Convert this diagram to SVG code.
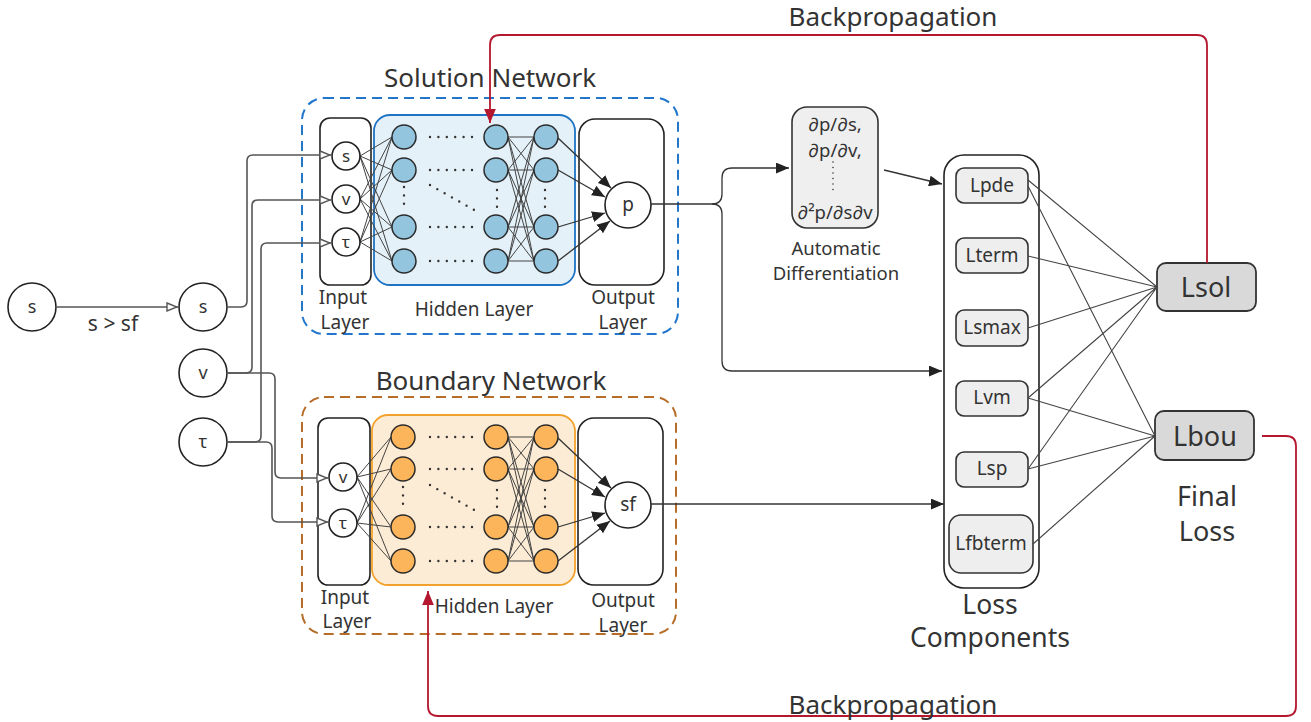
<svg xmlns="http://www.w3.org/2000/svg" width="1311" height="722" viewBox="0 0 1311 722">
<defs>
<style>
text{font-family:"Noto Sans","Open Sans",sans-serif;fill:#333;text-anchor:middle;dominant-baseline:central}
.t16{font-size:18px}.tl{font-size:19px}.tn{font-size:17px}.t17{font-size:19px}.tad{font-size:18.5px}.t22{font-size:26px}.tf{font-size:27px}.t24{font-size:26.5px}
.box{fill:#fff;stroke:#222;stroke-width:1.6}
.node{fill:#fff;stroke:#222;stroke-width:1.6}
.hb{fill:#94c5df;stroke:#2b2b2b;stroke-width:1.5}
.ho{fill:#fdb55b;stroke:#2b2b2b;stroke-width:1.5}
.w{stroke:#444;stroke-width:1;fill:none}
.dot{stroke:#333;stroke-width:2.4;stroke-linecap:round;stroke-dasharray:0 8.4;fill:none}
.in{stroke:#555;stroke-width:1.6;fill:none;marker-end:url(#open)}
.ar{stroke:#333;stroke-width:1.3;fill:none;marker-end:url(#fill)}
.red{stroke:#b5172e;stroke-width:1.8;fill:none;marker-end:url(#redh)}
.lc{fill:#eee;stroke:#333;stroke-width:1.6}
</style>
<marker id="open" viewBox="0 0 12 10" refX="12" refY="5" markerWidth="12" markerHeight="10" markerUnits="userSpaceOnUse" orient="auto"><path d="M1,1 L11,5 L1,9 Z" fill="#fff" stroke="#555" stroke-width="1.4"/></marker>
<marker id="fill" viewBox="0 0 12 10" refX="12" refY="5" markerWidth="13" markerHeight="11" markerUnits="userSpaceOnUse" orient="auto"><path d="M0,0 L12,5 L0,10 Z" fill="#222"/></marker>
<marker id="redh" viewBox="0 0 12 10" refX="12" refY="5" markerWidth="14" markerHeight="12" markerUnits="userSpaceOnUse" orient="auto"><path d="M0,0 L12,5 L0,10 Z" fill="#b5172e"/></marker>
</defs>
<rect width="1311" height="722" fill="#fff"/>

<!-- Solution network -->
<g id="solution-network">
<rect x="302" y="98" width="376" height="236" rx="22" fill="none" stroke="#2277cc" stroke-width="2" stroke-dasharray="10 6"/>
<text class="t22" x="490" y="77">Solution Network</text>
<rect class="box" x="320" y="118" width="51" height="167" rx="10"/>
<rect x="374" y="115" width="201" height="170" rx="16" fill="#e4f1f8" stroke="#1f73c4" stroke-width="1.8"/>
<rect class="box" x="579" y="119" width="85" height="166" rx="16"/>
<g class="w">
<path d="M360,156 L392,137 M360,156 L392,170 M360,156 L392,227 M360,156 L392,261 M360,199 L392,137 M360,199 L392,170 M360,199 L392,227 M360,199 L392,261 M360,242 L392,137 M360,242 L392,170 M360,242 L392,227 M360,242 L392,261"/>
<path d="M508,137 L534,137 M508,137 L534,170 M508,137 L534,227 M508,137 L534,261 M508,170 L534,137 M508,170 L534,170 M508,170 L534,227 M508,170 L534,261 M508,227 L534,137 M508,227 L534,170 M508,227 L534,227 M508,227 L534,261 M508,261 L534,137 M508,261 L534,170 M508,261 L534,227 M508,261 L534,261"/>
</g>
<path class="dot" d="M430,137 H473 M430,170 H473 M430,227 H473 M430,261 H473 M404,187 V212 M430,185 L476,211 M497,190 V211 M545,190 V211"/>
<g class="ar">
<path d="M558,138 L611,188"/><path d="M558,170 L605,197"/><path d="M558,227 L605,213"/><path d="M558,261 L610,221"/>
</g>
<circle class="hb" cx="404" cy="137" r="12"/><circle class="hb" cx="404" cy="170" r="12"/><circle class="hb" cx="404" cy="227" r="12"/><circle class="hb" cx="404" cy="261" r="12"/>
<circle class="hb" cx="496" cy="137" r="12"/><circle class="hb" cx="496" cy="170" r="12"/><circle class="hb" cx="496" cy="227" r="12"/><circle class="hb" cx="496" cy="261" r="12"/>
<circle class="hb" cx="546" cy="137" r="12"/><circle class="hb" cx="546" cy="170" r="12"/><circle class="hb" cx="546" cy="227" r="12"/><circle class="hb" cx="546" cy="261" r="12"/>
<circle class="node" cx="346" cy="156" r="14"/><text class="tn" x="346" y="155">s</text>
<circle class="node" cx="346" cy="199" r="14"/><text class="tn" x="346" y="198">v</text>
<circle class="node" cx="346" cy="242" r="14"/><text class="tn" x="346" y="241">τ</text>
<circle class="node" cx="628" cy="205" r="23"/><text class="t17" x="628" y="204">p</text>
<text class="tl" x="343" y="297">Input</text><text class="tl" x="345" y="322">Layer</text>
<text class="tl" x="474" y="309">Hidden Layer</text>
<text class="tl" x="623" y="297">Output</text><text class="tl" x="623" y="322">Layer</text>
</g>

<!-- Boundary network -->
<g id="boundary-network">
<rect x="302" y="397" width="374" height="237" rx="22" fill="none" stroke="#b56d27" stroke-width="2" stroke-dasharray="10 6"/>
<text class="t22" x="491" y="380">Boundary Network</text>
<rect class="box" x="318" y="418" width="52" height="167" rx="10"/>
<rect x="372" y="415" width="203" height="170" rx="16" fill="#fdecd5" stroke="#f2a22c" stroke-width="1.8"/>
<rect class="box" x="578" y="418" width="85" height="167" rx="16"/>
<g class="w">
<path d="M357,477 L391,437 M357,477 L391,469 M357,477 L391,527 M357,477 L391,561 M357,523 L391,437 M357,523 L391,469 M357,523 L391,527 M357,523 L391,561"/>
<path d="M508,437 L534,437 M508,437 L534,469 M508,437 L534,527 M508,437 L534,561 M508,469 L534,437 M508,469 L534,469 M508,469 L534,527 M508,469 L534,561 M508,527 L534,437 M508,527 L534,469 M508,527 L534,527 M508,527 L534,561 M508,561 L534,437 M508,561 L534,469 M508,561 L534,527 M508,561 L534,561"/>
</g>
<path class="dot" d="M430,437 H473 M430,469 H473 M430,527 H473 M430,561 H473 M403,487 V512 M430,485 L476,511 M497,490 V511 M545,490 V511"/>
<g class="ar">
<path d="M558,438 L611,488"/><path d="M558,469 L605,497"/><path d="M558,527 L605,513"/><path d="M558,561 L610,521"/>
</g>
<circle class="ho" cx="403" cy="437" r="12"/><circle class="ho" cx="403" cy="469" r="12"/><circle class="ho" cx="403" cy="527" r="12"/><circle class="ho" cx="403" cy="561" r="12"/>
<circle class="ho" cx="496" cy="437" r="12"/><circle class="ho" cx="496" cy="469" r="12"/><circle class="ho" cx="496" cy="527" r="12"/><circle class="ho" cx="496" cy="561" r="12"/>
<circle class="ho" cx="546" cy="437" r="12"/><circle class="ho" cx="546" cy="469" r="12"/><circle class="ho" cx="546" cy="527" r="12"/><circle class="ho" cx="546" cy="561" r="12"/>
<circle class="node" cx="343" cy="477" r="14"/><text class="tn" x="343" y="476">v</text>
<circle class="node" cx="343" cy="523" r="14"/><text class="tn" x="343" y="522">τ</text>
<circle class="node" cx="628" cy="505" r="23"/><text class="t17" x="628" y="504">sf</text>
<text class="tl" x="345" y="597">Input</text><text class="tl" x="347" y="621">Layer</text>
<text class="tl" x="494" y="606">Hidden Layer</text>
<text class="tl" x="623" y="600">Output</text><text class="tl" x="623" y="625">Layer</text>
</g>

<!-- Inputs -->
<g id="input-s0"><circle class="node" cx="32" cy="307" r="24"/><text class="t16" x="32" y="306">s</text></g>
<g id="input-s"><circle class="node" cx="203" cy="307" r="24"/><text class="t16" x="203" y="306">s</text></g>
<g id="input-v"><circle class="node" cx="203" cy="373" r="24"/><text class="t16" x="203" y="372">v</text></g>
<g id="input-tau"><circle class="node" cx="203" cy="442" r="24"/><text class="t16" x="203" y="441">τ</text></g>

<!-- Autodiff -->
<g id="autodiff">
<rect class="lc" x="792" y="107" width="86" height="121" rx="15" style="fill:#efefef"/>
<text class="tad" x="835" y="123">∂p/∂s,</text>
<text class="tad" x="835" y="149">∂p/∂v,</text>
<path d="M833,162 V193" stroke="#333" stroke-width="1.6" stroke-linecap="round" stroke-dasharray="0 5.5" fill="none"/>
<text class="tad" x="835" y="211">∂²p/∂s∂v</text>
<text class="tad" x="836" y="247">Automatic</text>
<text class="tad" x="836" y="272">Differentiation</text>
</g>

<!-- Loss components -->
<g id="loss-components">
<rect class="box" x="944" y="155" width="95" height="433" rx="20"/>
<rect class="lc" x="956" y="168" width="72" height="35" rx="8"/><text class="tl" x="992" y="185">Lpde</text>
<rect class="lc" x="956" y="238" width="72" height="35" rx="8"/><text class="tl" x="992" y="255">Lterm</text>
<rect class="lc" x="956" y="310" width="72" height="36" rx="8"/><text class="tl" x="992" y="327">Lsmax</text>
<rect class="lc" x="956" y="381" width="72" height="35" rx="8"/><text class="tl" x="992" y="397">Lvm</text>
<rect class="lc" x="956" y="452" width="72" height="35" rx="8"/><text class="tl" x="992" y="468">Lsp</text>
<rect class="lc" x="949" y="515" width="84" height="58" rx="12"/><text class="tl" x="991" y="543">Lfbterm</text>
<text class="t24" x="990" y="604">Loss</text>
<text class="t24" x="990" y="637">Components</text>
</g>

<g id="lsol"><rect x="1157" y="263" width="99" height="48" rx="9" fill="#d9d9d9" stroke="#333" stroke-width="1.8"/><text class="tf" x="1206" y="286">Lsol</text></g>
<g id="lbou"><rect x="1155" y="411" width="99" height="49" rx="9" fill="#d9d9d9" stroke="#333" stroke-width="1.8"/><text class="tf" x="1205" y="435">Lbou</text></g>
<g id="final-loss-label"><text class="tf" x="1207" y="495">Final</text><text class="tf" x="1207" y="530">Loss</text></g>

<!-- Connectors -->
<g id="connectors">
<path d="M57,307 H178" stroke="#555" stroke-width="1.6" fill="none" marker-end="url(#open)"/>
<text class="t17" x="113" y="323" style="font-size:21px">s &gt; sf</text>
<path class="in" d="M228,307 H241 Q247,307 247,301 V161 Q247,155 253,155 H331"/>
<path class="in" d="M228,373 H246 Q252,373 252,367 V206 Q252,200 258,200 H331"/>
<path class="in" d="M228,373 H269 Q275,373 275,379 V472 Q275,478 281,478 H328"/>
<path class="in" d="M228,442 H255 Q261,442 261,436 V249 Q261,243 267,243 H331"/>
<path class="in" d="M228,442 H266 Q272,442 272,448 V516 Q272,522 278,522 H328"/>
<path class="ar" d="M651,204 H712 Q722,204 722,194 V178 Q722,168 732,168 H789"/>
<path class="ar" d="M712,204 Q722,204 722,214 V361 Q722,371 732,371 H942"/>
<path class="ar" d="M884,170 L942,184"/>
<path class="ar" d="M651,504 H944"/>
<g stroke="#444" stroke-width="1.1" fill="none">
<path d="M1028,180 L1157,287 M1028,186 L1155,436 M1028,256 L1157,287 M1028,328 L1157,287 M1028,398 L1157,287 M1028,398 L1155,436 M1028,469 L1157,287 M1028,469 L1155,436 M1033,544 L1155,436"/>
</g>
<path class="red" d="M1207,263 V45 Q1207,35 1197,35 H500 Q490,35 490,45 V123"/>
<path class="red" d="M1262,436 H1286 Q1296,436 1296,446 V706 Q1296,716 1286,716 H438 Q428,716 428,706 V591"/>
<text class="t22" x="893" y="16">Backpropagation</text>
<text class="t22" x="893" y="704">Backpropagation</text>
</g>
</svg>
